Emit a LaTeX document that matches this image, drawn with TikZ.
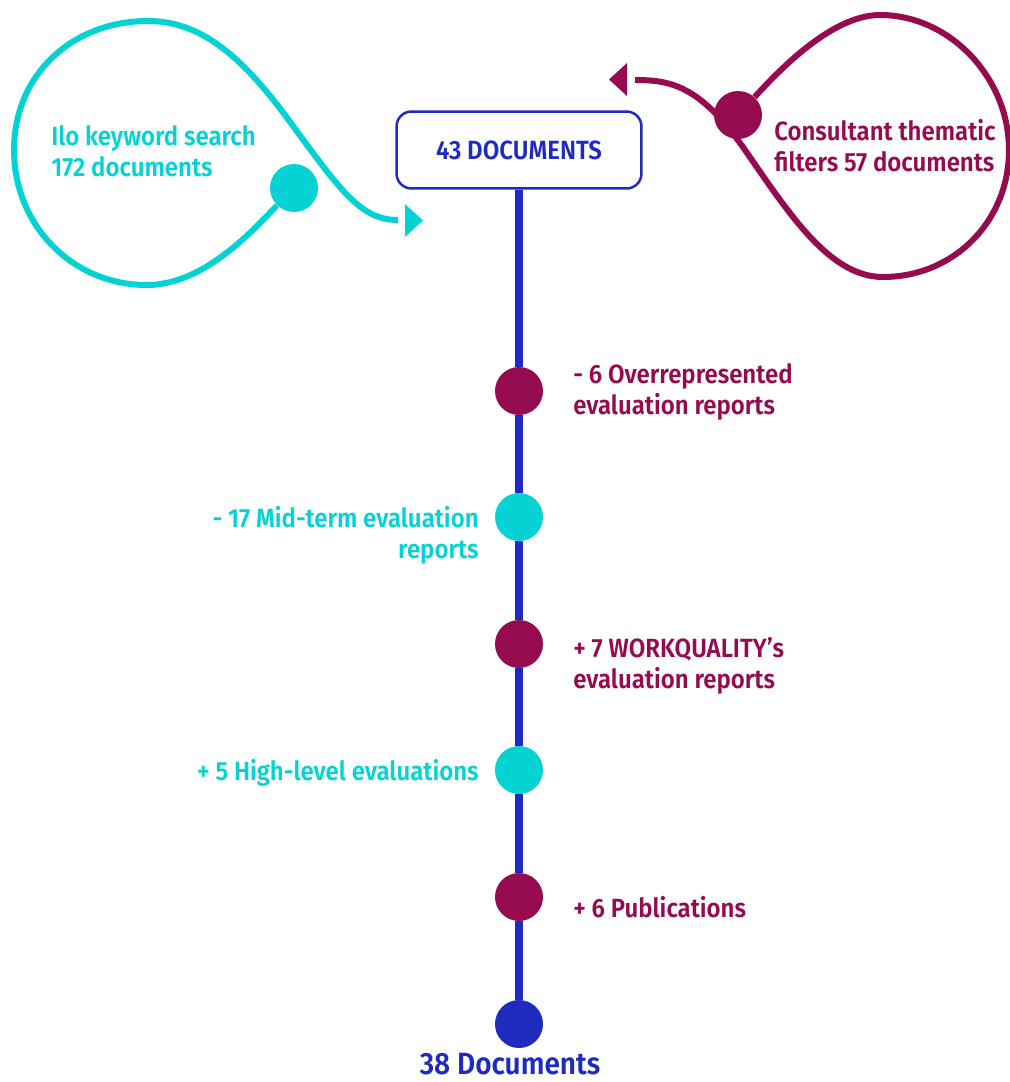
\documentclass[tikz,border=0pt]{standalone}
\usepackage{fontspec}
\setmainfont{Fira Sans SemiBold}[FakeStretch=0.91]
\usepackage{tikz}
\definecolor{plum}{RGB}{150,10,80}
\definecolor{aqua}{RGB}{5,210,210}
\definecolor{royal}{RGB}{31,43,190}

\begin{document}
\begin{tikzpicture}[x=0.02cm,y=-0.02cm,
	dot/.style={circle,fill=#1,minimum size=0.96cm,inner sep=0pt},
	txt/.style={text=#1,font=\fontsize{15}{17.6}\selectfont,inner sep=0pt},
	loopline/.style={draw=#1,line width=0.12cm},
	stem/.style={draw=royal,line width=0.16cm}]
	\useasboundingbox (0,0) rectangle (1010,1082);
	% start box and steps
	\node[draw=royal,line width=0.05cm,rounded corners=0.3cm,minimum width=4.9cm,minimum height=1.54cm,
		txt=royal] (start) at (519,150) {43 DOCUMENTS};
	\node[dot=plum] (s1) at (519,391) {};
	\node[dot=aqua] (s2) at (519,517) {};
	\node[dot=plum] (s3) at (519,644) {};
	\node[dot=aqua] (s4) at (519,770) {};
	\node[dot=plum] (s5) at (519,897) {};
	\node[dot=royal] (s6) at (519,1024) {};
	\draw[stem] (start) -- (s1);
	\draw[stem] (s1) -- (s2);
	\draw[stem] (s2) -- (s3);
	\draw[stem] (s3) -- (s4);
	\draw[stem] (s4) -- (s5);
	\draw[stem] (s5) -- (s6);
	% step labels
	\node[txt=plum,align=left,anchor=west] (t1) at (573,392) {- 6 Overrepresented\\evaluation reports};
	\node[txt=aqua,align=right,anchor=east] (t2) at (479,535) {- 17 Mid-term evaluation\\reports};
	\node[txt=plum,align=left,anchor=west] (t3) at (573,666) {+ 7 WORKQUALITY’s\\evaluation reports};
	\node[txt=aqua,anchor=east] (t4) at (479,773) {+ 5 High-level evaluations};
	\node[txt=plum,anchor=west] (t5) at (573,907) {+ 6 Publications};
	\node[txt=royal,font=\fontsize{17.5}{20}\selectfont,anchor=base] (t6) at (510,1074) {38 Documents};
	% left loop
	\node[dot=aqua] (lsrc) at (294,188) {};
	\coordinate (lend) at (398,220);
	\draw[loopline=aqua] (lsrc) .. controls (255,228) and (205,285) .. (147,285)
		.. controls (72,285) and (14,225) .. (14,150)
		.. controls (14,75) and (72,21) .. (148,21)
		.. controls (200,21) and (240,55) .. (285,115)
		.. controls (340,190) and (360,220) .. (lend);
	\fill[aqua] (405,204) -- (423,220.5) -- (405,237) -- cycle;
	\node[txt=aqua,align=left,anchor=west] (ltxt) at (51,151) {Ilo keyword search\\172 documents};
	% right loop
	\node[dot=plum] (rsrc) at (738,115) {};
	\coordinate (rend) at (635,80);
	\draw[loopline=plum] (rsrc) .. controls (775,75) and (830,15) .. (880,15)
		.. controls (950,15) and (1009,78) .. (1009,150)
		.. controls (1009,222) and (953,277) .. (883,277)
		.. controls (830,277) and (790,215) .. (745,150)
		.. controls (700,85) and (670,80) .. (rend);
	\fill[plum] (627,63) -- (609,79.5) -- (627,96) -- cycle;
	\node[txt=plum,align=left,anchor=west] (rtxt) at (774,146) {Consultant thematic\\filters 57 documents};
\end{tikzpicture}
\end{document}
